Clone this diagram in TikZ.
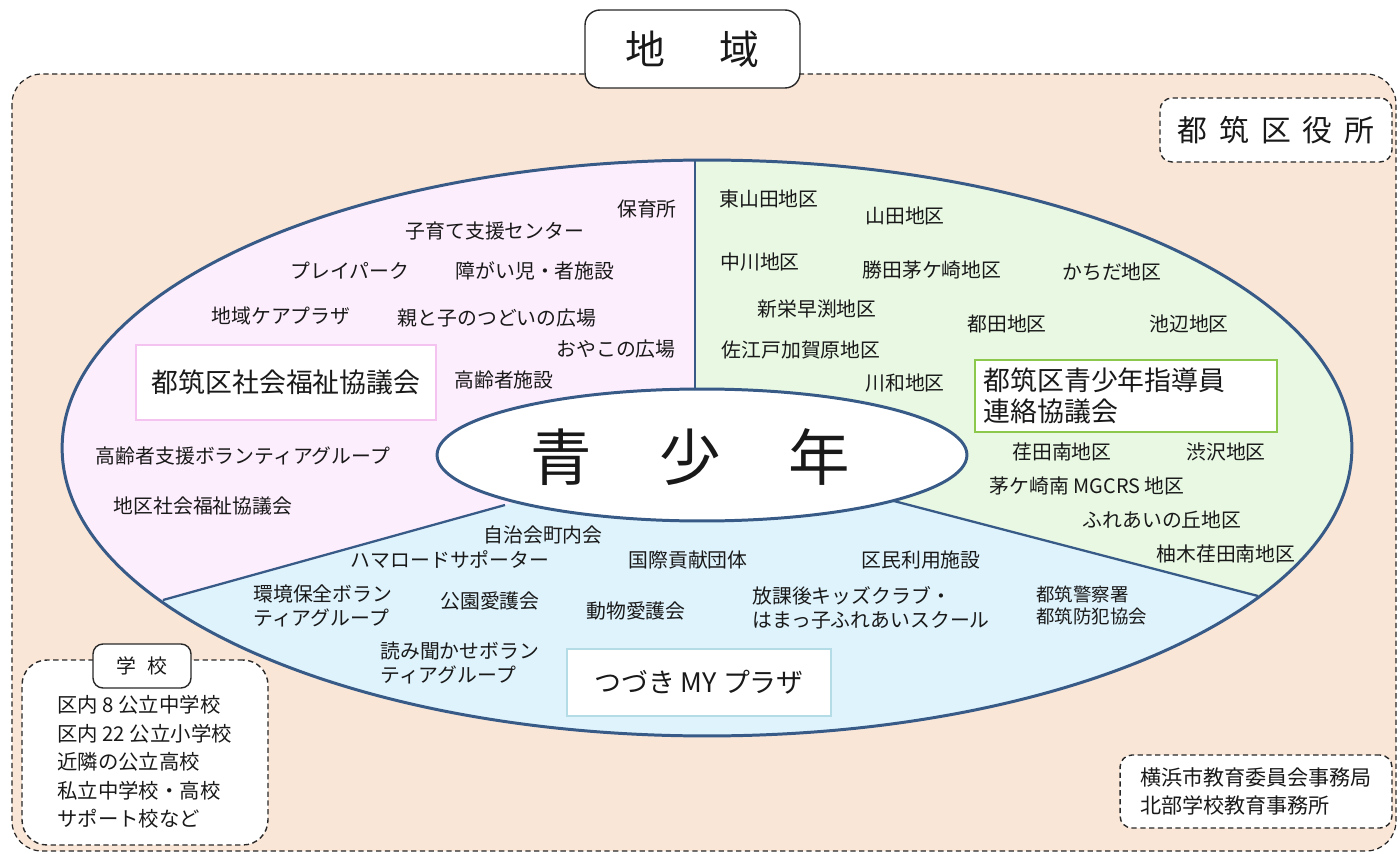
\documentclass[tikz,border=0pt]{standalone}
\usepackage{fontspec}
\setmainfont{Noto Sans CJK JP}
\definecolor{peach}{RGB}{250,230,215}
\definecolor{pinksec}{RGB}{253,238,253}
\definecolor{greensec}{RGB}{232,248,227}
\definecolor{bluesec}{RGB}{223,243,252}
\definecolor{navy}{RGB}{55,90,135}
\definecolor{pinkline}{RGB}{245,195,240}
\definecolor{greenline}{RGB}{140,200,75}
\definecolor{blueline}{RGB}{180,220,230}
\definecolor{ink}{RGB}{25,25,25}
\definecolor{frameline}{RGB}{40,40,40}
\tikzset{
  regionframe/.style={draw=frameline, line width=0.7pt, dash pattern=on 3pt off 2pt},
  dashbox/.style={draw=frameline, line width=0.8pt, dash pattern=on 3pt off 2pt, fill=white, rounded corners=0.24cm, inner sep=0pt, text=ink},
  solidbox/.style={draw=frameline, line width=0.8pt, fill=white, rounded corners=0.28cm, inner sep=0pt, text=ink},
  outline/.style={draw=navy, line width=1.7pt},
  divider/.style={draw=navy, line width=1.3pt},
  lbl/.style={font=\fontsize{11.3}{13.6}\selectfont, text=ink, inner sep=0pt, align=left},
  minilbl/.style={font=\fontsize{10.5}{12.5}\selectfont, text=ink, inner sep=0pt, align=left},
  biglbl/.style={font=\fontsize{15.3}{18}\selectfont, text=ink},
  orgbox/.style={fill=white, line width=1.6pt, inner sep=0pt},
}
\begin{document}
\begin{tikzpicture}[x=0.02cm,y=-0.02cm]
\useasboundingbox (0,0) rectangle (1398,854);
\fill[white] (0,0) rectangle (1398,854);
\path[regionframe, fill=peach, rounded corners=0.6cm] (12,74) rectangle (1396,851);

% big ellipse with three sectors
\coordinate (oc) at (707,448);
\fill[bluesec] (oc) ellipse [x radius=12.9cm, y radius=5.76cm];
\begin{scope}
  \clip (oc) ellipse [x radius=12.9cm, y radius=5.76cm];
  \fill[pinksec] (695,0) -- (695,455) -- (505,505) -- (0,645.3) -- (0,0) -- cycle;
  \fill[greensec] (695,0) -- (695,455) -- (890,500) -- (1398,632.5) -- (1398,0) -- cycle;
\end{scope}
\coordinate (t1) at (695,160);
\coordinate (t2) at (695,392);
\coordinate (l1) at (163,600);
\coordinate (l2) at (505,505);
\coordinate (r1) at (1258,596);
\coordinate (r2) at (890,500);
\draw[divider] (t1) -- (t2);
\draw[divider] (l1) -- (l2);
\draw[divider] (r1) -- (r2);
\draw[outline] (oc) ellipse [x radius=12.9cm, y radius=5.76cm];

% centre
\coordinate (ic) at (702,455);
\draw[outline, fill=white] (ic) ellipse [x radius=5.3cm, y radius=1.32cm];
\node[font=\fontsize{35}{40}\selectfont, text=ink, inner sep=0pt] (youth) at (690,457) {青\hspace{1.1em}少\hspace{1.1em}年};

% title and frame boxes
\node[solidbox, minimum width=4.3cm, minimum height=1.56cm, rounded corners=0.3cm, font=\fontsize{22.7}{26}\selectfont] (region) at (692.5,49) {地\hspace{1.35em}域};
\node[dashbox, minimum width=4.64cm, minimum height=1.28cm, font=\fontsize{17}{20}\selectfont] (ward) at (1276,130) {都\hspace{.4em}筑\hspace{.4em}区\hspace{.4em}役\hspace{.4em}所};

% organisation boxes
\node[orgbox, draw=pinkline, minimum width=6cm, minimum height=1.5cm, biglbl] (shakyo) at (286,382.5) {都筑区社会福祉協議会};
\node[orgbox, draw=greenline, text width=5.7cm, inner xsep=0.17cm, minimum height=1.44cm, biglbl, align=left] (shido) at (1126,396) {都筑区青少年指導員\\連絡協議会};
\node[orgbox, draw=blueline, minimum width=5.28cm, minimum height=1.34cm, biglbl] (myplaza) at (699,682.5) {つづき MY プラザ};

% pink sector
\node[lbl] (hoiku) at (647,209) {保育所};
\node[lbl] (kosodate) at (495,231) {子育て支援センター};
\node[lbl] (play) at (350,271) {プレイパーク};
\node[lbl] (shogai) at (535,271) {障がい児・者施設};
\node[lbl] (care) at (281,316) {地域ケアプラザ};
\node[lbl] (oyako1) at (497,318) {親と子のつどいの広場};
\node[lbl] (oyako2) at (616,349) {おやこの広場};
\node[lbl] (korei) at (504,380) {高齢者施設};
\node[lbl] (koreivol) at (243,456) {高齢者支援ボランティアグループ};
\node[lbl] (chiku) at (203,506) {地区社会福祉協議会};

% green sector
\node[lbl] (higashi) at (769,199) {東山田地区};
\node[lbl] (yamada) at (905,216) {山田地区};
\node[lbl] (nakagawa) at (760,262) {中川地区};
\node[lbl] (katsuta) at (932,270) {勝田茅ケ崎地区};
\node[lbl] (kachida) at (1112,272) {かちだ地区};
\node[lbl] (shinei) at (817,309) {新栄早渕地区};
\node[lbl] (tsuda) at (1007,324) {都田地区};
\node[lbl] (ikebe) at (1189,324) {池辺地区};
\node[lbl] (saedo) at (801,350) {佐江戸加賀原地区};
\node[lbl] (kawawa) at (905,383) {川和地区};
\node[lbl] (edaminami) at (1062,452) {荏田南地区};
\node[lbl] (shibusawa) at (1226,452) {渋沢地区};
\node[lbl] (mgcrs) at (1087,486) {茅ケ崎南 MGCRS 地区};
\node[lbl] (fureai) at (1162,520) {ふれあいの丘地区};
\node[lbl] (yunoki) at (1226,554) {柚木荏田南地区};

% blue sector
\node[lbl] (jichi) at (543,535) {自治会町内会};
\node[lbl] (hama) at (450,560) {ハマロードサポーター};
\node[lbl] (kokusai) at (688,560) {国際貢献団体};
\node[lbl] (kumin) at (921,560) {区民利用施設};
\node[lbl, anchor=west] (kankyo) at (253,606) {環境保全ボラン\\ティアグループ};
\node[lbl] (koen) at (490,601) {公園愛護会};
\node[lbl] (dobutsu) at (636,611) {動物愛護会};
\node[lbl, anchor=west] (houkago) at (752,608) {放課後キッズクラブ・\\はまっ子ふれあいスクール};
\node[minilbl, anchor=west] (keisatsu) at (1036,605) {都筑警察署\\都筑防犯協会};
\node[lbl, anchor=west] (yomi) at (380,663) {読み聞かせボラン\\ティアグループ};

% schools
\node[dashbox, minimum width=4.92cm, minimum height=3.7cm, rounded corners=0.5cm] (schoolbox) at (145,752.5) {};
\node[solidbox, minimum width=1.96cm, minimum height=0.88cm, rounded corners=0.2cm, font=\fontsize{11.3}{13}\selectfont] (schoollbl) at (142,666) {学\hspace{.6em}校};
\node[lbl, anchor=west, font=\fontsize{11.6}{16.2}\selectfont] (schools) at (57,762) {区内 8 公立中学校\\区内 22 公立小学校\\近隣の公立高校\\私立中学校・高校\\サポート校など};

% education board
\node[dashbox, minimum width=5.44cm, minimum height=1.46cm, align=left, font=\fontsize{12}{16.4}\selectfont] (board) at (1256,791.5) {横浜市教育委員会事務局\\北部学校教育事務所};
\end{tikzpicture}
\end{document}
